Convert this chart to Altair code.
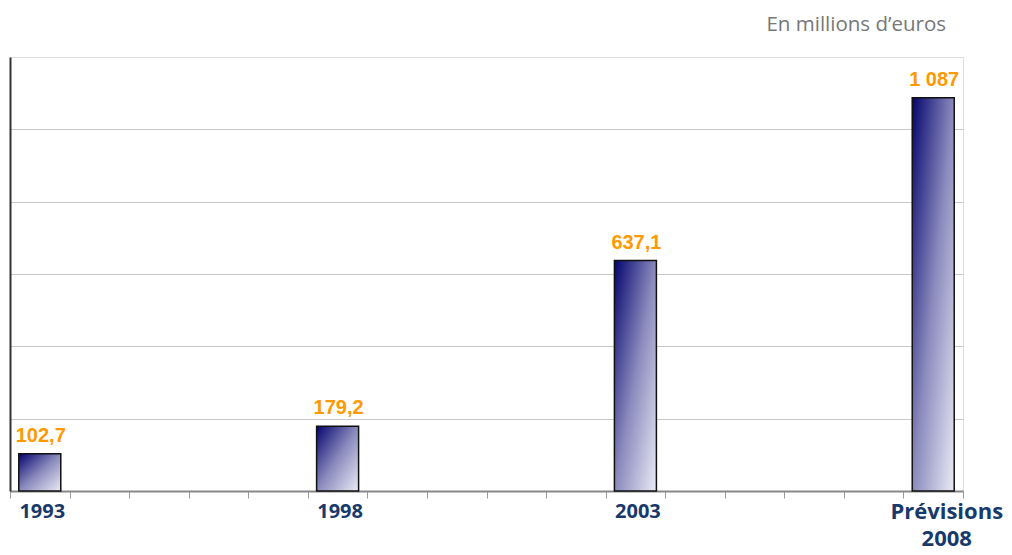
import altair as alt
import pandas as pd

# ---- data ----
all_years = [str(y) for y in range(1993, 2009)]
bar_years = ["1993", "1998", "2003", "2008"]
values = [102.7, 179.2, 637.1, 1087]
value_labels = ["102,7", "179,2", "637,1", "1 087"]
shown_year_labels = ["1993", "1998", "2003"]
forecast_label = ["Prévisions", "2008"]
grid_values = [200, 400, 600, 800, 1000]
subtitle = "En millions d’euros"

df = pd.DataFrame({"year": bar_years, "value": values, "label": value_labels})

shown = ",".join("'%s'" % s for s in shown_year_labels)
label_expr = (
    "datum.value == '2008' ? ['%s', '%s'] : (indexof([%s], datum.value) >= 0 ? datum.value : '')"
    % (forecast_label[0], forecast_label[1], shown)
)

x_enc = alt.X(
    "year:O",
    scale=alt.Scale(domain=all_years, paddingInner=0, paddingOuter=0),
    axis=alt.Axis(
        title=None,
        labelAngle=0,
        tickBand="extent",
        labelExpr=label_expr,
        labelFont="Open Sans",
        labelFontWeight="bold",
        labelColor="#18396B",
        labelFontSize={"condition": {"test": "datum.value == '2008'", "value": 22}, "value": 20},
        labelOffset={"condition": {"test": "datum.value == '2008'", "value": 13}, "value": 2},
        labelLineHeight=27,
        labelPadding=3,
        labelBaseline="top",
        labelOverlap=False,
        tickSize=7,
        tickColor="#999999",
        tickWidth=1,
        domainColor="#888888",
        domainWidth=2,
        grid=False,
    ),
)

y_enc = alt.Y(
    "value:Q",
    scale=alt.Scale(domain=[0, 1200], nice=False),
    axis=alt.Axis(
        title=None,
        labels=False,
        ticks=False,
        values=grid_values,
        grid=True,
        gridColor="#c8c8c8",
        gridWidth=1,
        domainColor="#333333",
        domainWidth=2,
    ),
)

grad = alt.Gradient(
    gradient="linear",
    stops=[
        alt.GradientStop(color="#04046e", offset=0),
        alt.GradientStop(color="#8a8abd", offset=0.5),
        alt.GradientStop(color="#ebebf6", offset=1),
    ],
    x1=0, y1=0, x2=1, y2=1,
)

base = alt.Chart(df)

bars = base.mark_bar(
    width=alt.RelativeBandSize(0.705),
    fill=grad,
    stroke="#111111",
    strokeWidth=1.5,
).encode(x=x_enc, y=y_enc)

texts = base.mark_text(
    baseline="alphabetic",
    dy=-12,
    dx=1,
    font="Liberation Sans",
    fontWeight="bold",
    fontSize=20,
    color="#FF9900",
).encode(x=alt.X("year:O", scale=alt.Scale(domain=all_years)), y="value:Q", text="label:N")

chart = (
    alt.layer(bars, texts)
    .properties(
        width=953,
        height=434,
        autosize=alt.AutoSizeParams(type="none"),
        padding={"left": 2, "top": 49, "right": 41, "bottom": 56},
        title=alt.TitleParams(
            subtitle,
            anchor="end",
            frame="group",
            font="Open Sans",
            fontSize=20.5,
            fontWeight="normal",
            color="#777777",
            dx=-17,
            offset=2,
            baseline="bottom",
        ),
    )
    .configure_view(stroke="#707070", strokeWidth=2)
    .configure(background="white")
)

chart.save("out.html", embed_options={"renderer": "svg", "actions": False})
